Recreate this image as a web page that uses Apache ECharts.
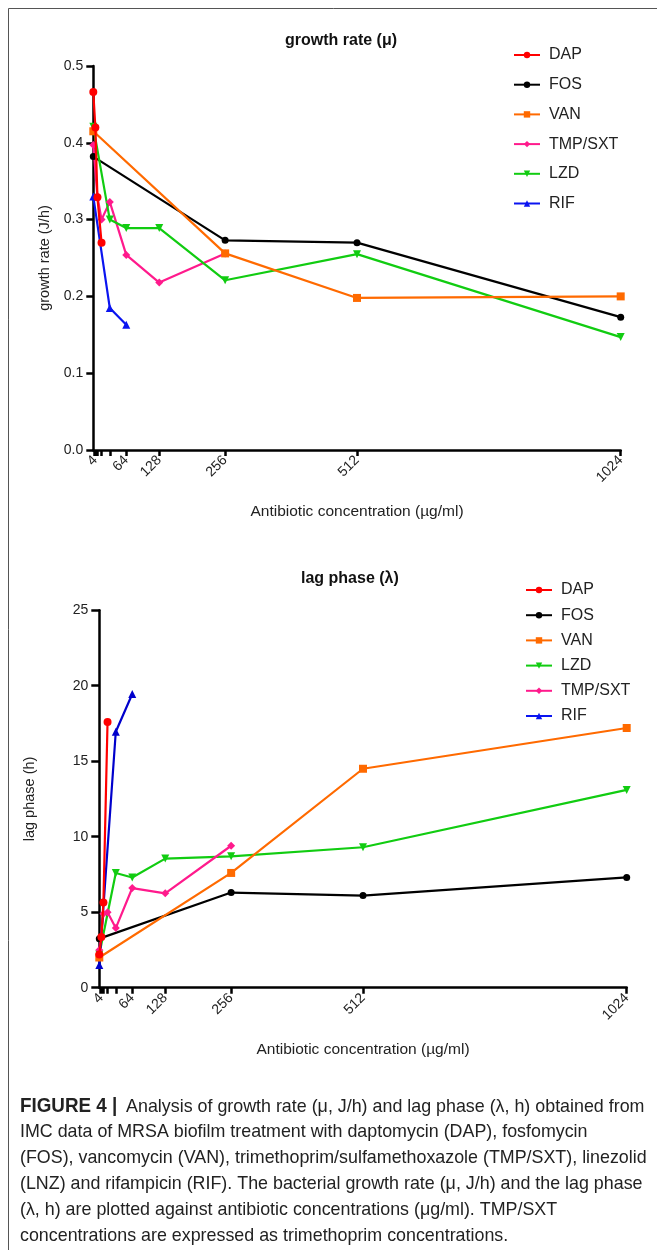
<!DOCTYPE html>
<html>
<head>
<meta charset="utf-8">
<script src="https://cdn.jsdelivr.net/npm/echarts@6/dist/echarts.min.js"></script>
<style>
html,body{margin:0;padding:0;background:#fff;}
#c{width:657px;height:1250px;}
</style>
</head>
<body>
<div id="c"></div>
<script>
// ---- data (x = antibiotic concentration in µg/ml) ----
var dapConc = [0, 4, 8, 16];
var fosConc = [0, 256, 512, 1024];
var vanConc = [0, 256, 512, 1024];
var tmpConc = [0, 8, 16, 32, 64, 128, 256];
var lzdConc = [0, 32, 64, 128, 256, 512, 1024];
var rifConc = [0, 32, 64];

// growth rate (J/h)
var dapGrowth = [0.466, 0.420, 0.329, 0.270];
var fosGrowth = [0.382, 0.273, 0.270, 0.173];
var vanGrowth = [0.415, 0.256, 0.198, 0.200];
var tmpGrowth = [0.397, 0.330, 0.300, 0.323, 0.254, 0.218, 0.256];
var lzdGrowth = [0.421, 0.300, 0.289, 0.289, 0.221, 0.255, 0.147];
var rifGrowth = [0.330, 0.185, 0.163];

// lag phase (h)
var dapLag = [2.2, 3.35, 5.65, 17.6];
var fosLag = [3.25, 6.3, 6.1, 7.3];
var vanLag = [2.0, 7.6, 14.5, 17.2];
var lzdLag = [2.2, 7.6, 7.3, 8.55, 8.7, 9.3, 13.1];
var tmpLag = [2.5, 4.9, 5.0, 3.95, 6.6, 6.25, 9.4];
var rifLag = [1.5, 16.95, 19.45];

var xTickValues = [2, 4, 8, 16, 32, 64, 128, 256, 512, 1024];
var xLabelValues = [4, 64, 128, 256, 512, 1024];

var topOrder = ['DAP', 'FOS', 'VAN', 'TMP/SXT', 'LZD', 'RIF'];
var bottomOrder = ['DAP', 'FOS', 'VAN', 'LZD', 'TMP/SXT', 'RIF'];

function pairs(xs, ys) { return xs.map(function (x, i) { return [x, ys[i]]; }); }

var styles = {
  'DAP': {color: '#ff0000', symbol: 'circle', size: 8, rot: 0, z: 5},
  'FOS': {color: '#000000', symbol: 'circle', size: 7, rot: 0, z: 2},
  'VAN': {color: '#ff6a00', symbol: 'rect', size: 8, rot: 0, z: 3},
  'TMP/SXT': {color: '#ff1a8c', symbol: 'diamond', size: 8, rot: 0, z: 2},
  'LZD': {color: '#11cc11', symbol: 'triangle', size: 8, rot: 180, z: 2},
  'RIF': {color: '#0a14f0', symbol: 'triangle', size: 8, rot: 0, z: 2}
};

var topData = {
  'DAP': pairs(dapConc, dapGrowth), 'FOS': pairs(fosConc, fosGrowth),
  'VAN': pairs(vanConc, vanGrowth), 'TMP/SXT': pairs(tmpConc, tmpGrowth),
  'LZD': pairs(lzdConc, lzdGrowth), 'RIF': pairs(rifConc, rifGrowth)
};
var bottomData = {
  'DAP': pairs(dapConc, dapLag), 'FOS': pairs(fosConc, fosLag),
  'VAN': pairs(vanConc, vanLag), 'LZD': pairs(lzdConc, lzdLag),
  'TMP/SXT': pairs(tmpConc, tmpLag), 'RIF': pairs(rifConc, rifLag)
};

function mk(name, data, idx, colorOverride) {
  var s = styles[name];
  var c = colorOverride || s.color;
  return {
    type: 'line', name: name, data: data,
    xAxisIndex: idx, yAxisIndex: idx,
    symbol: s.symbol, symbolSize: s.size, symbolRotate: s.rot,
    showAllSymbol: true, z: s.z,
    lineStyle: {color: c, width: 2.2},
    itemStyle: {color: c},
    emphasis: {disabled: true},
    animation: false
  };
}

var series = [];
topOrder.forEach(function (n) { series.push(mk(n, topData[n], 0)); });
bottomOrder.forEach(function (n) { series.push(mk(n, bottomData[n], 1, n === 'RIF' ? '#0000cc' : null)); });

var FONT = "'Liberation Sans', Arial, Helvetica, sans-serif";
var CAPFONT = "'Liberation Sans', Arial, sans-serif";

function xAxis(gridIndex) {
  return {
    type: 'value', gridIndex: gridIndex, min: 0, max: 1024,
    splitLine: {show: false},
    axisLine: {lineStyle: {color: '#000', width: 2.5}},
    axisTick: {show: true, length: 6, customValues: xTickValues, lineStyle: {color: '#000', width: 2.5}},
    axisLabel: {customValues: xLabelValues, rotate: 45, margin: 8, color: '#222', fontSize: 14, fontFamily: FONT,
                formatter: function (v) { return String(v); }},
    name: 'Antibiotic concentration (\u00b5g/ml)', nameLocation: 'middle', nameGap: 54,
    nameTextStyle: {color: '#222', fontSize: 15.5, fontFamily: FONT}
  };
}

var captionLines = [
  '{b|FIGURE 4 |} Analysis of growth rate (\u03bc, J/h) and lag phase (\u03bb, h) obtained from',
  'IMC data of MRSA biofilm treatment with daptomycin (DAP), fosfomycin',
  '(FOS), vancomycin (VAN), trimethoprim/sulfamethoxazole (TMP/SXT), linezolid',
  '(LNZ) and rifampicin (RIF). The bacterial growth rate (\u03bc, J/h) and the lag phase',
  '(\u03bb, h) are plotted against antibiotic concentrations (\u03bcg/ml). TMP/SXT',
  'concentrations are expressed as trimethoprim concentrations.'
];

var option = {
  backgroundColor: '#fff',
  animation: false,
  title: [
    {text: 'growth rate (\u03bc)', left: 280, top: 28, textStyle: {fontSize: 16, fontWeight: 'bold', color: '#111', fontFamily: FONT}},
    {text: 'lag phase (\u03bb)', left: 296, top: 566, textStyle: {fontSize: 16, fontWeight: 'bold', color: '#111', fontFamily: FONT}}
  ],
  legend: [
    {data: topOrder.map(function (n) { return {name: n}; }), orient: 'vertical', left: 508, top: 42,
     itemWidth: 26, itemHeight: 8, itemGap: 13.7, textStyle: {fontSize: 16, color: '#222', fontFamily: FONT, padding: [0, 0, 0, 4]},
     selectedMode: false},
    {data: bottomOrder.map(function (n) { return {name: n}; }), orient: 'vertical', left: 520, top: 577,
     itemWidth: 26, itemHeight: 8, itemGap: 9.2, textStyle: {fontSize: 16, color: '#222', fontFamily: FONT, padding: [0, 0, 0, 4]},
     selectedMode: false}
  ],
  grid: [
    {left: 93.3, right: 36.3, top: 66, bottom: 800},
    {left: 99.3, right: 30.3, top: 610.2, bottom: 262.3}
  ],
  xAxis: [xAxis(0), xAxis(1)],
  yAxis: [
    {type: 'value', gridIndex: 0, min: 0, max: 0.5, interval: 0.1,
     splitLine: {show: false},
     axisLine: {show: true, lineStyle: {color: '#000', width: 2.5}},
     axisTick: {show: true, length: 7, lineStyle: {color: '#000', width: 2.5}},
     axisLabel: {margin: 10, color: '#222', fontSize: 14, fontFamily: FONT, formatter: function (v) { return v.toFixed(1); }},
     name: 'growth rate (J/h)', nameLocation: 'middle', nameGap: 40,
     nameTextStyle: {color: '#222', fontSize: 14.5, fontFamily: FONT}},
    {type: 'value', gridIndex: 1, min: 0, max: 25, interval: 5,
     splitLine: {show: false},
     axisLine: {show: true, lineStyle: {color: '#000', width: 2.5}},
     axisTick: {show: true, length: 8, lineStyle: {color: '#000', width: 2.5}},
     axisLabel: {margin: 11, color: '#222', fontSize: 14, fontFamily: FONT},
     name: 'lag phase (h)', nameLocation: 'middle', nameGap: 62,
     nameTextStyle: {color: '#222', fontSize: 14.5, fontFamily: FONT}}
  ],
  series: series,
  graphic: [
    {type: 'rect', shape: {x: 8.5, y: 8.5, width: 700, height: 1300}, style: {fill: null, stroke: '#555', lineWidth: 1}, silent: true, z: -1},
    {type: 'group', x: 20, y: 1097, scaleX: 0.965, children: captionLines.map(function (t, i) {
      return {type: 'text', x: 0, y: i * 25.8, style: {
        text: t, fill: '#222', fontSize: 18.5, fontFamily: CAPFONT,
        rich: {b: {fontWeight: 'bold', fontSize: 19.5, fill: '#222', fontFamily: CAPFONT, padding: [0, 4, 0, 0]}}
      }};
    })}
  ]
};

var chart = echarts.init(document.getElementById('c'), null, {renderer: 'canvas'});
chart.setOption(option);
</script>
</body>
</html>
